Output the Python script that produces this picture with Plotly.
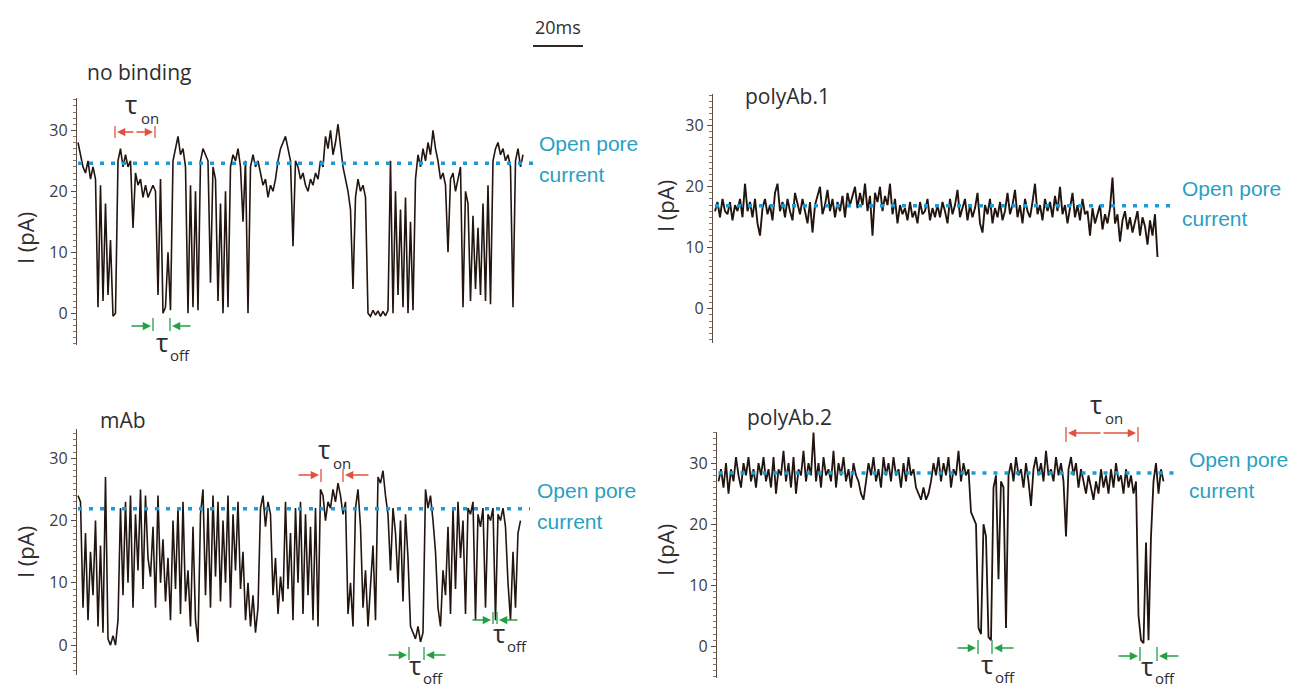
import plotly.graph_objects as go

W, H = 1298, 690
def px(x): return x / W
def py(y): return 1 - y / H

DT_MS = 1.0  # sampling interval (ms)

no_binding = [
    28, 26, 24, 23, 25, 22, 24, 22, 1, 21,
    2, 18, 3, 12, -0.5, 0, 25, 27, 24, 26,
    24, 25, 14, 23, 21, 22, 19, 21, 19, 20,
    21, 20, 3, 22, 0, 1, 10, 0.5, 25, 27,
    29, 26, 27, 24, 0, 21, 1, 20, 0.5, 25,
    27, 26, 25, 5, 24, 22, 2, 18, 0, 20,
    1, 24, 26, 25, 27, 24, 15, 25, 0, 24,
    26, 24, 25, 23, 21, 22, 19, 21, 20, 22,
    25, 27, 28, 29, 27, 25, 11, 25, 24, 22,
    23, 21, 20, 22, 21, 23, 22, 25, 24, 29,
    27, 30, 26, 28, 31, 27, 24, 22, 20, 17,
    4, 19, 22, 20, 21, 19, 0, -0.5, 0.5, -0.3,
    0.4, -0.5, 0.3, -0.4, 0.5, 25, 0, 20, 3, 17,
    1, 19, 0, 15, 0.5, 22, 26, 24, 27, 25,
    28, 26, 30, 27, 25, 22, 23, 21, 10, 22,
    23, 20, 22, 24, 1, 20, 18, 2, 16, 4,
    14, 3, 18, 2, 21, 1.5, 25, 27, 28, 26,
    27, 25, 26, 24, 1, 25, 27, 24, 26,
]

polyab1 = [
    16, 17.5, 15, 18, 16, 15.5, 17.5, 14.5, 17, 16,
    18, 15, 20.5, 16, 17.5, 15, 18, 14, 12, 16.5,
    18, 15.5, 17, 14.5, 19, 20.5, 16, 17.5, 15, 18,
    16, 14.5, 19, 17, 15.5, 18, 16, 14, 17.5, 12.5,
    17, 18.5, 20, 15.5, 17, 19.5, 16, 18, 15, 17.5,
    16, 18.5, 15, 19, 17, 18.5, 20, 16.5, 19, 17,
    20.5, 16, 18.5, 12, 19, 17.5, 20, 16, 18.5, 17,
    20.5, 15.5, 18, 14, 17, 15.5, 16.5, 14.5, 17.5, 15,
    16, 14, 17.5, 15.5, 16, 18, 14.5, 16.5, 15, 17,
    15, 17.5, 16, 14, 18, 15.5, 17, 19.5, 15, 16.5,
    18, 14.5, 17, 15, 16.5, 19, 14, 12.5, 17, 15.5,
    18, 14, 16.5, 15, 17.5, 14.5, 16, 19, 15.5, 17,
    19.5, 15, 17, 14, 18, 16, 15, 17.5, 20.5, 15.5,
    17, 14.5, 18, 16, 17.5, 15, 18.5, 16, 20, 15.5,
    17, 14, 16.5, 19, 15, 17, 14.5, 18, 15.5, 16,
    12, 16.5, 14, 15.5, 17, 13, 15.5, 14, 16.5, 21.5,
    14, 15.5, 11, 14.5, 16, 13, 15, 12.5, 14.5, 16,
    12, 15, 13.5, 10.5, 14.5, 12, 15.5, 8.5,
]

mab = [
    24, 23, 6, 18, 4, 15, 8, 20, 3, 16,
    2, 27, 1, 0, 1.5, 0, 4, 22, 8, 23,
    10, 24, 6, 21, 12, 25, 9, 24, 14, 11,
    19, 6, 24, 10, 17, 7, 14, 4, 20, 9,
    22, 5, 23, 7, 12, 3, 19, 4, 0.5, 21,
    25, 8, 22, 6, 24, 11, 23, 7, 20, 10,
    24, 6, 21, 12, 23, 9, 15, 4, 10, 3,
    8, 2, 6, 22, 24, 19, 23, 21, 8, 14,
    5, 11, 7, 23, 9, 18, 4, 22, 10, 23,
    5, 21, 8, 19, 4, 22, 3, 25, 24, 20,
    23, 22, 25, 23, 26, 24, 21, 23, 5, 10,
    3, 22, 25, 19, 6, 12, 3, 9, 16, 4,
    27, 26, 28, 24, 21, 12, 22, 18, 10, 20,
    7, 21, 14, 3, 2, 1, 3, 0.5, 2, 25,
    22, 24, 20, 15, 6, 3, 12, 8, 19, 5,
    22, 9, 23, 14, 20, 5, 22, 21, 23, 4,
    21, 19, 22, 6, 21, 20, 22, 4, 21, 20,
    22, 19, 10, 4, 15, 6, 18, 20,
]

polyab2 = [
    27, 29, 26, 30, 25, 29, 27, 31, 28, 26,
    30, 28, 31, 27, 29, 26, 30, 28, 31, 27,
    29, 26, 31, 25, 29, 28, 32, 27, 30, 26,
    31, 25, 29, 28, 32, 27, 30, 28, 35, 27,
    30, 26, 31, 28, 29, 27, 32, 26, 30, 28,
    31, 27, 29, 26, 30, 28, 27, 25, 24, 27,
    30, 28, 31, 27, 29, 26, 31, 28, 30, 27,
    31, 28, 29, 26, 30, 27, 31, 28, 29, 26,
    25, 24, 26, 24, 25, 27, 30, 28, 31, 27,
    30, 28, 31, 26, 29, 28, 32, 27, 30, 28,
    29, 22, 21, 20, 3, 2, 20, 18, 1.5, 1,
    26, 28, 11, 27, 26, 3, 28, 30, 27, 31,
    28, 29, 26, 30, 27, 23, 29, 31, 28, 30,
    27, 32, 28, 29, 27, 31, 28, 30, 27, 18,
    29, 31, 28, 30, 26, 29, 27, 25, 28, 26,
    24, 27, 25, 29, 26, 28, 25, 29, 26, 30,
    27, 28, 25, 29, 26, 28, 25, 27, 5, 1,
    0.5, 17, 1, 18, 27, 30, 25, 29, 27,
]

panel_titles = ["no binding", "polyAb.1", "mAb", "polyAb.2"]
open_pore_levels = [24.6, 16.9, 21.9, 28.4]   # pA
open_pore_end_ms = [182.8, 183.2, 180.8, 182.4]
y_ticks = [0, 10, 20, 30]
SCALE_MS = 20
PX_PER_MS = 2.5

traces_data = [no_binding, polyab1, mab, polyab2]
trace_widths = [1.6, 1.9, 1.6, 1.8]

# layout geometry (pixels)
panels = [
    dict(x0=77, x1=537, y0=98, y1=345, xr=[-0.4, 183.6], yr=[-5.2, 35.3]),
    dict(x0=713, x1=1180, y0=94, y1=343, xr=[-0.8, 186.0], yr=[-5.6, 35.2]),
    dict(x0=77, x1=537, y0=429, y1=675, xr=[-0.4, 183.6], yr=[-4.8, 34.7]),
    dict(x0=717, x1=1180, y0=432, y1=678, xr=[-0.6, 184.6], yr=[-5.2, 35.1]),
]

TRACE_COLOR = "#22150f"
DOT_COLOR = "#1e9bd2"
TEXT_TEAL = "#2a9fc4"
RED = "#e2513c"
GREEN = "#23a046"
AXIS_COLOR = "#5e4c44"
TICK_FONT = dict(family="Open Sans", size=16, color="#3c3c3c")

fig = go.Figure()
layout = dict(width=W, height=H, margin=dict(l=0, r=0, t=0, b=0),
              paper_bgcolor="white", plot_bgcolor="white", showlegend=False)

for i, (vals, p) in enumerate(zip(traces_data, panels)):
    n = "" if i == 0 else str(i + 1)
    xa, ya = "x" + n, "y" + n
    t = [k * DT_MS for k in range(len(vals))]
    fig.add_trace(go.Scatter(x=t, y=vals, mode="lines", xaxis=xa, yaxis=ya,
                             line=dict(color=TRACE_COLOR, width=trace_widths[i]),
                             hoverinfo="skip"))
    fig.add_trace(go.Scatter(x=[0, open_pore_end_ms[i]], y=[open_pore_levels[i]] * 2,
                             mode="lines", xaxis=xa, yaxis=ya,
                             line=dict(color=DOT_COLOR, width=3.5, dash="4px,7px"),
                             hoverinfo="skip"))
    layout["xaxis" + n] = dict(domain=[px(p["x0"]), px(p["x1"])], range=p["xr"],
                               visible=False, anchor=ya)
    layout["yaxis" + n] = dict(domain=[py(p["y1"]), py(p["y0"])], range=p["yr"],
                               anchor=xa, showline=True, linecolor=AXIS_COLOR, linewidth=1.3,
                               ticks="outside", ticklen=5, tickwidth=1, tickcolor=AXIS_COLOR,
                               tickmode="array", tickvals=y_ticks, showgrid=False, zeroline=False,
                               tickfont=TICK_FONT,
                               minor=dict(dtick=1, tick0=0, ticks="outside", ticklen=3,
                                          tickcolor="#8a7466", tickwidth=1, showgrid=False))

fig.update_layout(**layout)

ann = []
shapes = []

def text(x, y, s, size, color="#2e2e2e", family="Open Sans", xanchor="center", angle=0):
    ann.append(dict(x=px(x), y=py(y), xref="paper", yref="paper", text=s, showarrow=False,
                    xanchor=xanchor, yanchor="middle", textangle=angle,
                    font=dict(family=family, size=size, color=color)))

def arrow(xh, yh, xt, yt, color, both=False):
    ann.append(dict(x=px(xh), y=py(yh), xref="paper", yref="paper", text="",
                    ax=xt - xh, ay=yt - yh, axref="pixel", ayref="pixel", showarrow=True,
                    arrowhead=2, arrowsize=1.1, arrowwidth=1.5, arrowcolor=color,
                    arrowside="end+start" if both else "end",
                    startarrowhead=2, startarrowsize=1.1, standoff=0, startstandoff=0))

def vbar(x, y0, y1, color):
    shapes.append(dict(type="line", xref="paper", yref="paper", x0=px(x), x1=px(x),
                       y0=py(y0), y1=py(y1), line=dict(color=color, width=1.3)))

# panel titles
text(85, 72, panel_titles[0], 21, xanchor="left")
text(743, 96, panel_titles[1], 21, xanchor="left")
text(98, 420, panel_titles[2], 21, xanchor="left")
text(745, 417, panel_titles[3], 21, xanchor="left")

# y-axis titles
for (x, y) in [(25, 238), (665, 206), (25, 552), (665, 550)]:
    text(x, y, "I (pA)", 22, angle=-90)

# open pore labels
for (x, y) in [(537, 143), (1180, 188), (535, 490), (1187, 459)]:
    text(x, y, "Open pore", 21, color=TEXT_TEAL, family="Liberation Sans", xanchor="left")
    text(x, y + 31, "current", 21, color=TEXT_TEAL, family="Liberation Sans", xanchor="left")

# scale bar
bar_x0 = 533
shapes.append(dict(type="line", xref="paper", yref="paper", x0=px(bar_x0),
                   x1=px(bar_x0 + SCALE_MS * PX_PER_MS), y0=py(46), y1=py(46),
                   line=dict(color="#2a2a2a", width=2)))
text(558, 27, f"{SCALE_MS}ms", 18)

def tau(x, y, sub, subdx, subdy):
    text(x, y, "τ", 26)
    text(x + subdx, y + subdy, sub, 15, xanchor="left")

# Panel A tau_on
vbar(115, 126, 138, RED); vbar(155, 126, 138, RED)
arrow(117, 132, 135, 132, RED); arrow(153, 132, 135, 132, RED)
tau(131, 104, "on", 8, 14)
# Panel A tau_off
vbar(153, 318, 331, GREEN); vbar(170, 318, 331, GREEN)
arrow(151, 326, 130, 326, GREEN); arrow(172, 326, 192, 326, GREEN)
tau(162, 342, "off", 6, 13)

# Panel C tau_on
vbar(321, 469, 482, RED); vbar(343, 469, 482, RED)
arrow(319, 475, 297, 475, RED); arrow(345, 475, 370, 475, RED)
tau(324, 449, "on", 7, 14)
# Panel C tau_off 1
vbar(409, 647, 660, GREEN); vbar(424, 647, 660, GREEN)
arrow(407, 655, 387, 655, GREEN); arrow(426, 655, 447, 655, GREEN)
tau(415, 665, "off", 6, 13)
# Panel C tau_off 2
vbar(493, 612, 624, GREEN); vbar(497, 612, 624, GREEN)
arrow(491, 620, 471, 620, GREEN); arrow(499, 620, 519, 620, GREEN)
tau(499, 633, "off", 6, 13)

# Panel D tau_on
vbar(1066, 427, 442, RED); vbar(1138, 427, 442, RED)
arrow(1068, 433, 1102, 433, RED); arrow(1136, 433, 1102, 433, RED)
tau(1096, 404, "on", 7, 14)
# Panel D tau_off 1
vbar(978, 640, 654, GREEN); vbar(992, 640, 654, GREEN)
arrow(976, 648, 956, 648, GREEN); arrow(994, 648, 1015, 648, GREEN)
tau(987, 664, "off", 6, 13)
# Panel D tau_off 2
vbar(1140, 647, 661, GREEN); vbar(1157, 647, 661, GREEN)
arrow(1138, 656, 1117, 656, GREEN); arrow(1159, 656, 1180, 656, GREEN)
tau(1147, 666, "off", 6, 12)

fig.update_layout(annotations=ann, shapes=shapes)
fig.write_html("out.html")
